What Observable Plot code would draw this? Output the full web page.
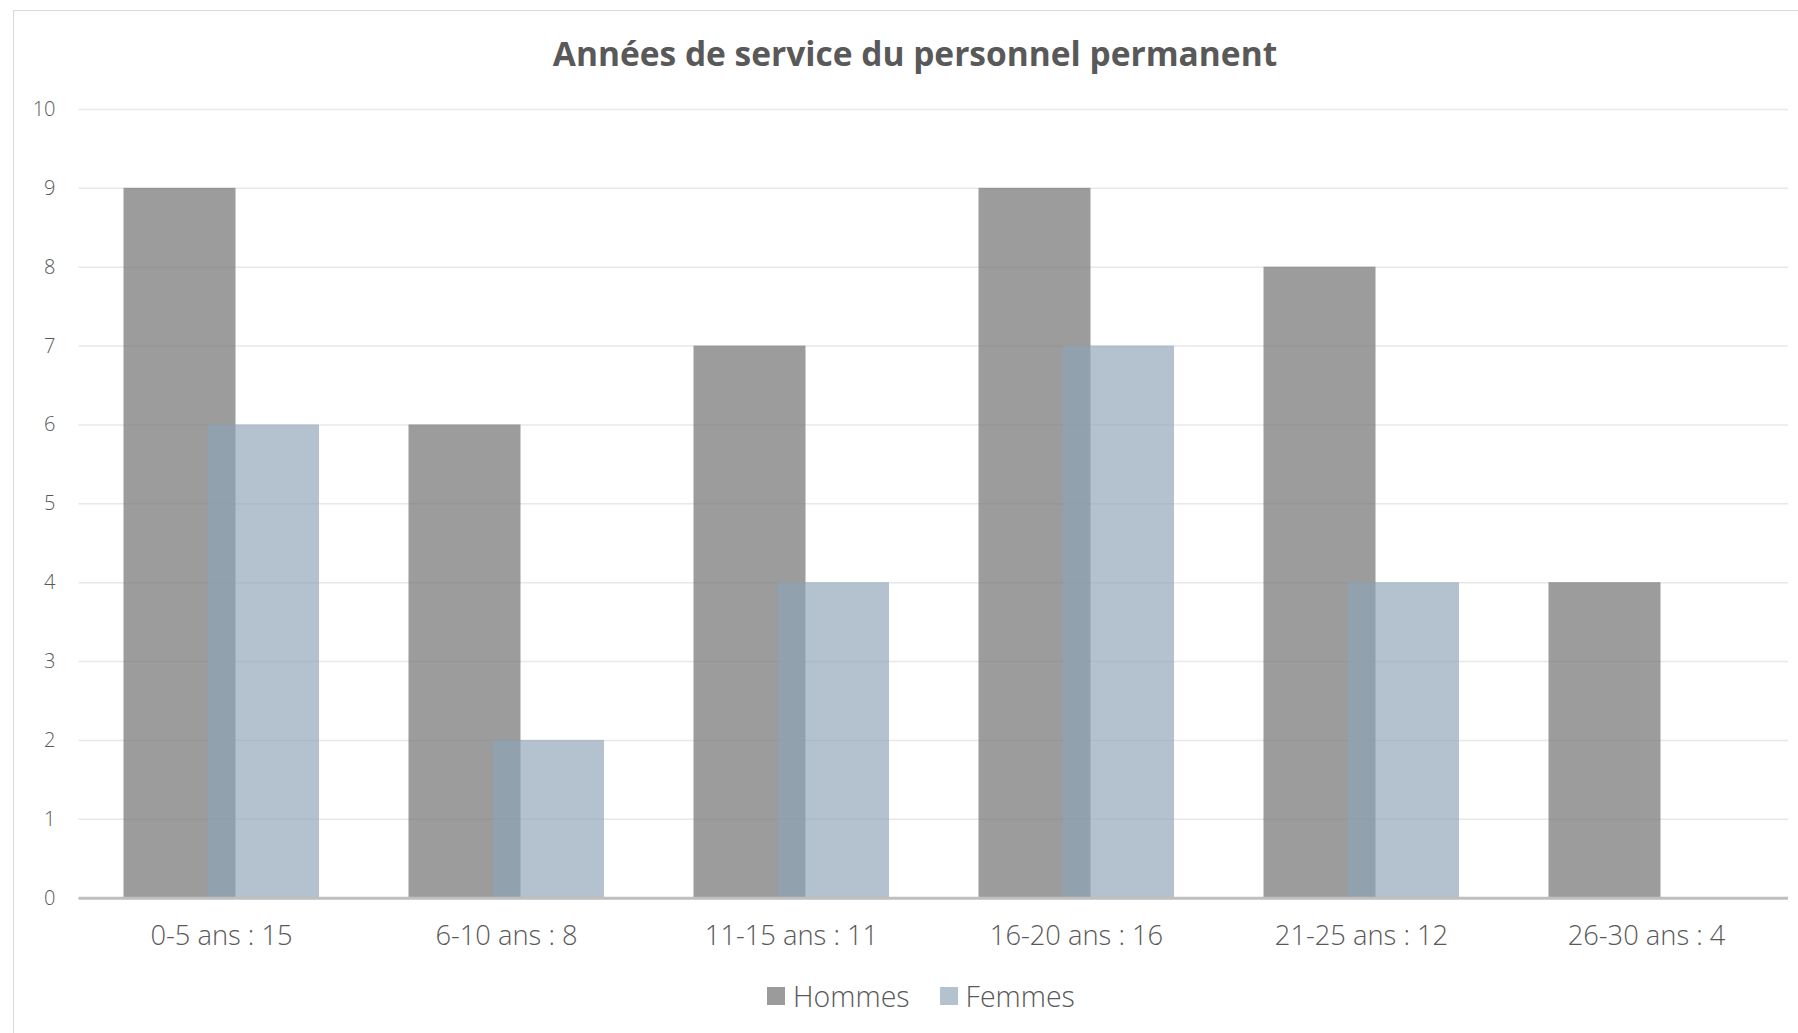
<!DOCTYPE html>
<html>
<head>
<meta charset="utf-8">
<script src="https://cdn.jsdelivr.net/npm/d3@7"></script>
<script src="https://cdn.jsdelivr.net/npm/@observablehq/plot@0.6"></script>
<style>
  html, body { margin: 0; padding: 0; background: #fff; overflow: hidden; width: 1798px; height: 1033px; }
  #frame { position: absolute; left: 13px; top: 10px; width: 1900px; height: 1200px; border-left: 1.5px solid #d9d9d9; border-top: 1.5px solid #d9d9d9; }
  #title { position: absolute; left: 0; width: 1830px; top: 37px; text-align: center; font-family: "Open Sans", sans-serif; font-weight: 700; font-size: 33.5px; color: #595959; line-height: 1; white-space: nowrap; }
  #chart { position: absolute; left: 0; top: 90px; }
  #chart g[aria-label="x-axis tick label"] { font-size: 27.3px !important; }
  #chart g[aria-label="y-axis tick label"] { font-size: 20px !important; }
  #legend { position: absolute; left: 0; width: 1842px; top: 982px; display: flex; justify-content: center; gap: 30px; font-family: "Open Sans", sans-serif; font-weight: 300; font-size: 28.5px; color: #595959; line-height: 1; }
  #legend span.item { display: flex; align-items: center; gap: 8px; }
  #legend span.sw { width: 18px; height: 18px; display: inline-block; }
</style>
</head>
<body>
<div id="frame"></div>
<div id="title">Années de service du personnel permanent</div>
<div id="chart"></div>
<div id="legend"></div>
<script>
const categories = ["0-5 ans : 15", "6-10 ans : 8", "11-15 ans : 11", "16-20 ans : 16", "21-25 ans : 12", "26-30 ans : 4"];
const hommes = [9, 6, 7, 9, 8, 4];
const femmes = [6, 2, 4, 7, 4, 0];
const seriesNames = ["Hommes", "Femmes"];
const yTicks = [0, 1, 2, 3, 4, 5, 6, 7, 8, 9, 10];

const rowsH = categories.map((c, i) => ({cat: c, value: hommes[i], series: seriesNames[0]}));
const rowsF = categories.map((c, i) => ({cat: c, value: femmes[i], series: seriesNames[1]}));

const colH = "#7a7a7b";
const colF = "rgb(142,164,182)";

const plot = Plot.plot({
  width: 1798,
  height: 880,
  marginLeft: 78.5,
  marginRight: 10,
  marginTop: 19,
  marginBottom: 72.3,
  style: { fontFamily: "'Open Sans', sans-serif", fontWeight: 300, fontSize: "20px", color: "#595959", background: "transparent" },
  x: { domain: categories, range: [78.5, 1788.5], padding: 0, round: false },
  y: { domain: [0, 10] },
  marks: [
    Plot.gridY(yTicks, { stroke: "#e8e8e8", strokeOpacity: 1, strokeWidth: 1.5 }),
    Plot.barY(rowsH, { x: "cat", y: "value", fill: colH, fillOpacity: 0.74, insetLeft: 45, insetRight: 128 }),
    Plot.barY(rowsF, { x: "cat", y: "value", fill: colF, fillOpacity: 0.67, insetLeft: 129, insetRight: 44.5 }),
    Plot.ruleY([0], { stroke: "#bfbfbf", strokeWidth: 3 }),
    Plot.axisY(yTicks, { tickSize: 0, tickPadding: 23.5, fontSize: 20, fill: "#595959", label: null, tickFormat: d3.format("d") }),
    Plot.axisX({ tickSize: 0, tickPadding: 27, fontSize: 27.3, fill: "#595959", label: null })
  ]
});
document.getElementById("chart").appendChild(plot);

const legend = document.getElementById("legend");
[[seriesNames[0], "#9b9b9c"], [seriesNames[1], "#b3c2ce"]].forEach(([name, c]) => {
  const item = document.createElement("span");
  item.className = "item";
  const sw = document.createElement("span");
  sw.className = "sw";
  sw.style.background = c;
  item.appendChild(sw);
  item.appendChild(document.createTextNode(name));
  legend.appendChild(item);
});
</script>
</body>
</html>
